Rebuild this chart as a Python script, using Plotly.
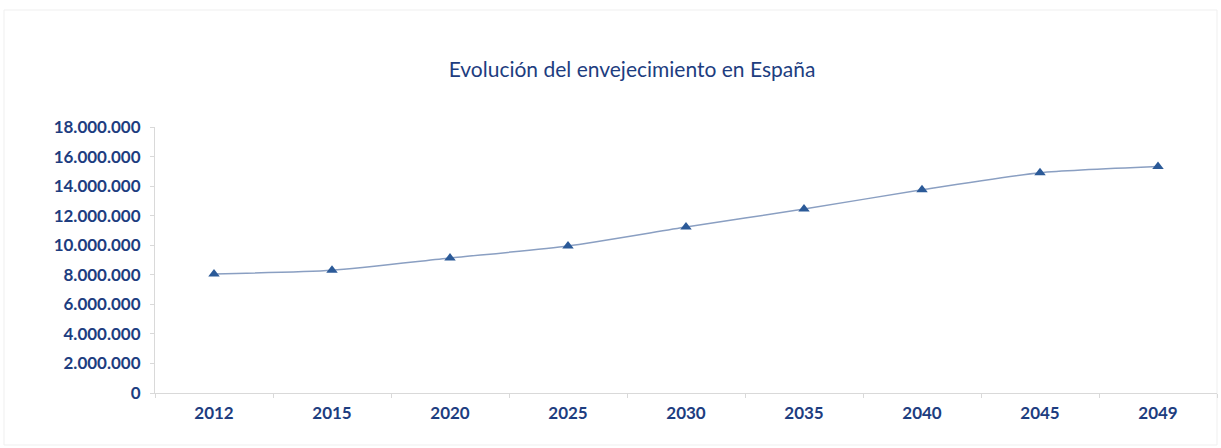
import plotly.graph_objects as go

years = ["2012", "2015", "2020", "2025", "2030", "2035", "2040", "2045", "2049"]
mayores = [8050000, 8300000, 9130000, 9950000, 11230000, 12450000, 13750000, 14900000, 15320000]
y_ticks = [0, 2000000, 4000000, 6000000, 8000000, 10000000, 12000000, 14000000, 16000000, 18000000]

navy = "#1d3d80"
FONT = "Lato, 'Open Sans', sans-serif"

fig = go.Figure()
fig.add_trace(go.Scatter(
    x=years, y=mayores, mode="lines+markers",
    line=dict(color="#8a9fc2", width=1.5, shape="spline", smoothing=0.6),
    marker=dict(symbol="triangle-up", size=10, color="#2b5a98"),
    showlegend=False,
))

fig.update_layout(
    width=1221, height=448,
    margin=dict(l=155, r=4, t=127, b=55),
    paper_bgcolor="white", plot_bgcolor="white",
    separators=",.",
    font=dict(family=FONT, color=navy, size=17),
    title=dict(text="Evolución del envejecimiento en España", x=632 / 1221, xanchor="center",
               y=1 - 70 / 448, yanchor="middle",
               font=dict(size=21, color=navy, family=FONT)),
    xaxis=dict(type="category", showgrid=False, showline=True, linecolor="#d9d9d9", linewidth=1,
               ticks="outside", tickson="boundaries", ticklen=4, tickcolor="#d9d9d9",
               ticklabelstandoff=5,
               tickfont=dict(size=17, color=navy, weight="bold"), range=[-0.5, 8.5]),
    yaxis=dict(range=[0, 18000000], tickvals=y_ticks, tickformat=",d", showgrid=False,
               showline=True, linecolor="#d9d9d9", linewidth=1, ticks="outside", ticklen=4,
               tickcolor="#d9d9d9", zeroline=False, ticklabelstandoff=6,
               tickfont=dict(size=17, color=navy, weight="bold")),
)

fig.add_shape(type="rect", xref="paper", yref="paper",
              x0=-151 / 1062, x1=1.0, y0=-52 / 266, y1=1 + 117 / 266,
              line=dict(color="#efefef", width=1), fillcolor="rgba(0,0,0,0)", layer="below")

fig.write_html("out.html", config={"displayModeBar": False},
               post_script="document.body.style.margin='0';")
